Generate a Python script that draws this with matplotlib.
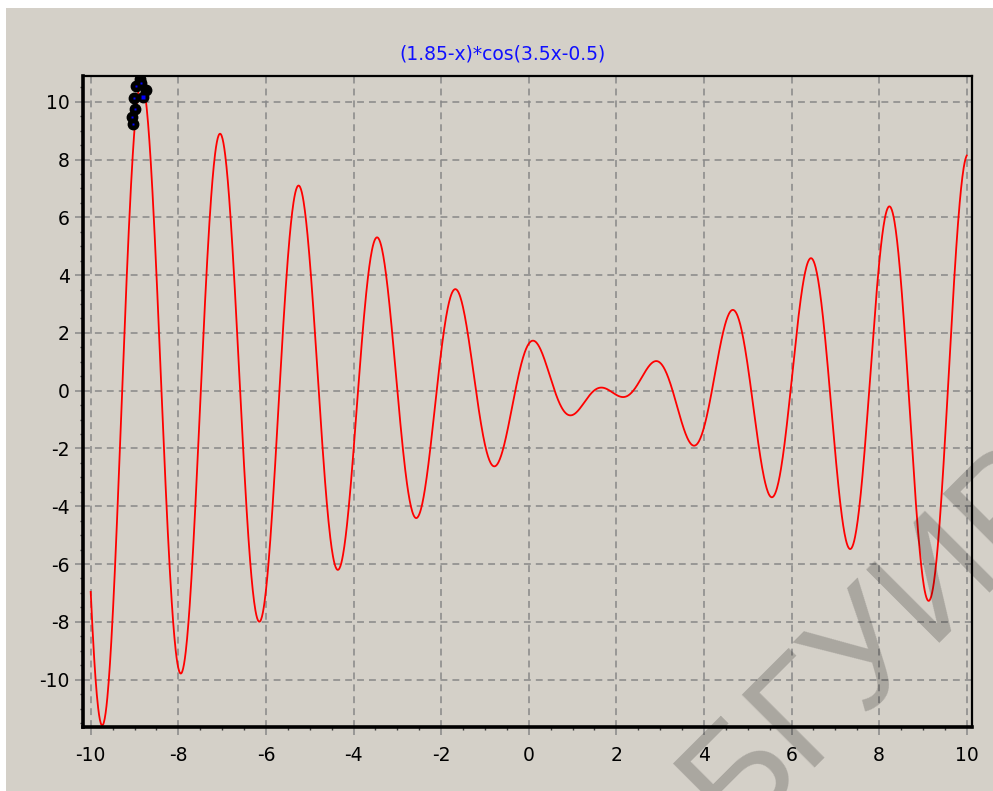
import numpy as np
import matplotlib.pyplot as plt
from matplotlib.patches import Rectangle
from matplotlib.ticker import MultipleLocator

plt.rcParams["font.family"] = ["DejaVu Sans"]
plt.rcParams["axes.unicode_minus"] = False

# ============================================================
#  Data
# ============================================================
title = "(1.85-x)*cos(3.5x-0.5)"
coef_a = 1.85      # (a - x)
coef_b = 3.5       # cos(b*x + c)
coef_c = -0.5
x_range = (-10.0, 10.0)

# search points collected around the global maximum
dots_x = [-8.858, -8.973, -8.806, -9.018, -8.995, -9.057, -9.034, -8.880, -8.744]
dots_y = [10.64, 10.55, 10.17, 10.12, 9.74, 9.46, 9.23, 10.78, 10.40]
dots_blue = [True, True, True, True, True, True, True, False, False]

x_ticks = np.arange(-10, 11, 2)
y_ticks = np.arange(-10, 11, 2)

watermark = "БГУИР"

# ============================================================
#  Curve
# ============================================================
xs = np.linspace(x_range[0], x_range[1], 2001)
ys = (coef_a - xs) * np.cos(coef_b * xs + coef_c)

W, H = 993, 791
BG = "#d4d0c8"
fig = plt.figure(figsize=(W / 100, H / 100), dpi=100, facecolor="white")
fig.add_artist(Rectangle((6 / W, 0), 1, 1 - 8 / H, transform=fig.transFigure,
                         facecolor=BG, edgecolor="none", zorder=-5))

ax = fig.add_axes([83 / W, 1 - 727 / H, (972 - 83) / W, (727 - 76) / H])
ax.set_facecolor(BG)

ax.plot(xs, ys, color="#ff0000", lw=1.3, zorder=3)

# black markers with small blue centres
ax.plot(dots_x, dots_y, "o", ms=7.5, color="black", mec="black", zorder=4)
bx = [x for x, b in zip(dots_x, dots_blue) if b]
by = [y for y, b in zip(dots_y, dots_blue) if b]
ax.plot(bx, by, "s", ms=1.8, color="#0000ff", mec="none", zorder=5)
ax.plot([dots_x[2]], [dots_y[2]], "s", ms=3.2, color="#0000ff", mec="none", zorder=5)

ax.set_xlim(-10.176, 10.12)
ax.set_ylim(-11.64, 10.89)

ax.set_xticks(x_ticks)
ax.set_yticks(y_ticks)
ax.set_xticklabels([str(v) for v in x_ticks])
ax.set_yticklabels([str(v) for v in y_ticks])
ax.xaxis.set_minor_locator(MultipleLocator(0.5))
ax.yaxis.set_minor_locator(MultipleLocator(0.5))

ax.grid(True, which="major", color="#888888", lw=1.1, linestyle=(0, (4.5, 3.3)))
ax.tick_params(which="major", direction="out", length=5.5, width=1.1,
               color="#888888", labelsize=13.5, labelcolor="black", pad=4)
ax.tick_params(which="minor", direction="out", length=2.2, width=1.0, color="#404040")
ax.tick_params(axis="x", which="major", pad=8)

for side in ["left", "bottom"]:
    ax.spines[side].set_linewidth(2.6)
for side in ["top", "right"]:
    ax.spines[side].set_linewidth(1.6)
for sp in ax.spines.values():
    sp.set_color("black")
    sp.set_zorder(6)

fig.text(502 / W, 1 - 59 / H, title, color="#1010ff", fontsize=13.5,
         ha="center", va="baseline")

fig.text(734 / W, 1 - 836 / H, watermark, fontsize=108, rotation=45,
         rotation_mode="anchor", ha="left", va="baseline",
         family=["Liberation Sans", "DejaVu Sans"], color="black", alpha=0.2, zorder=10)

fig.savefig("out.png", dpi=100, facecolor=fig.get_facecolor())
